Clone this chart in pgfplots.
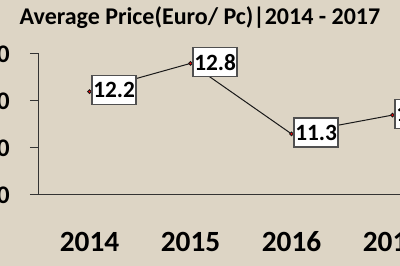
\documentclass[border=0pt]{standalone}
\usepackage{pgfplots}
\pgfplotsset{compat=1.18}
\usepackage{fontspec}
\setmainfont{Carlito}
\definecolor{bg}{RGB}{221,213,197}
\definecolor{boxgray}{RGB}{80,80,80}
\begin{document}
\begin{tikzpicture}
\useasboundingbox (-29.25pt,-53.25pt) rectangle (270.75pt,146.25pt);
\clip (-29.25pt,-53.25pt) rectangle (270.75pt,146.25pt);
\fill[bg] (-29.25pt,-53.25pt) rectangle (270.75pt,146.25pt);
\node[font=\bfseries\fontsize{18}{20}\selectfont, anchor=base] at (120.75pt,127.5pt) {Average Price(Euro/ Pc)|2014 - 2017};
\begin{axis}[
  at={(0pt,0pt)}, anchor=south west,
  scale only axis, width=303pt, height=105.75pt,
  xmin=-0.5, xmax=3.5, ymin=10, ymax=13,
  clip=false,
  axis x line*=bottom, axis y line*=left,
  axis line style={-, draw=black!80, line width=0.75pt},
  xtick={0,1,2,3}, xticklabels={2014,2015,2016,2017},
  ytick={10,11,12,13},
  tick align=outside, major tick length=6.75pt,
  xtick style={draw=none},
  ytick style={draw=black!80, line width=0.75pt},
  /pgf/number format/assume math mode=true,
  yticklabel={\pgfmathprintnumber[fixed,fixed zerofill,precision=1]{\tick}},
  xticklabel style={font=\bfseries\fontsize{22}{24}\selectfont, anchor=base, yshift=-36pt},
  yticklabel style={font=\bfseries\fontsize{19}{21}\selectfont, anchor=east, inner sep=0pt, xshift=-15pt},
]
\addplot[black!90, line width=0.75pt, mark=*, mark size=1.4pt, mark options={fill=red, draw=none},
  nodes near coords={\pgfmathprintnumber[fixed,fixed zerofill,precision=1]{\pgfplotspointmeta}},
  nodes near coords style={anchor=west, xshift=1.5pt, yshift=1pt, fill=white, draw=boxgray, line width=1.1pt, font=\bfseries\fontsize{17.5}{19}\selectfont, minimum width=32.25pt, minimum height=21.75pt, inner sep=0.8pt, text=black}]
  coordinates {(0,12.2) (1,12.8) (2,11.3) (3,11.7)};
\end{axis}
\draw[black!80, line width=0.75pt] (-6.75pt,0pt) -- (0pt,0pt);
\end{tikzpicture}
\end{document}
